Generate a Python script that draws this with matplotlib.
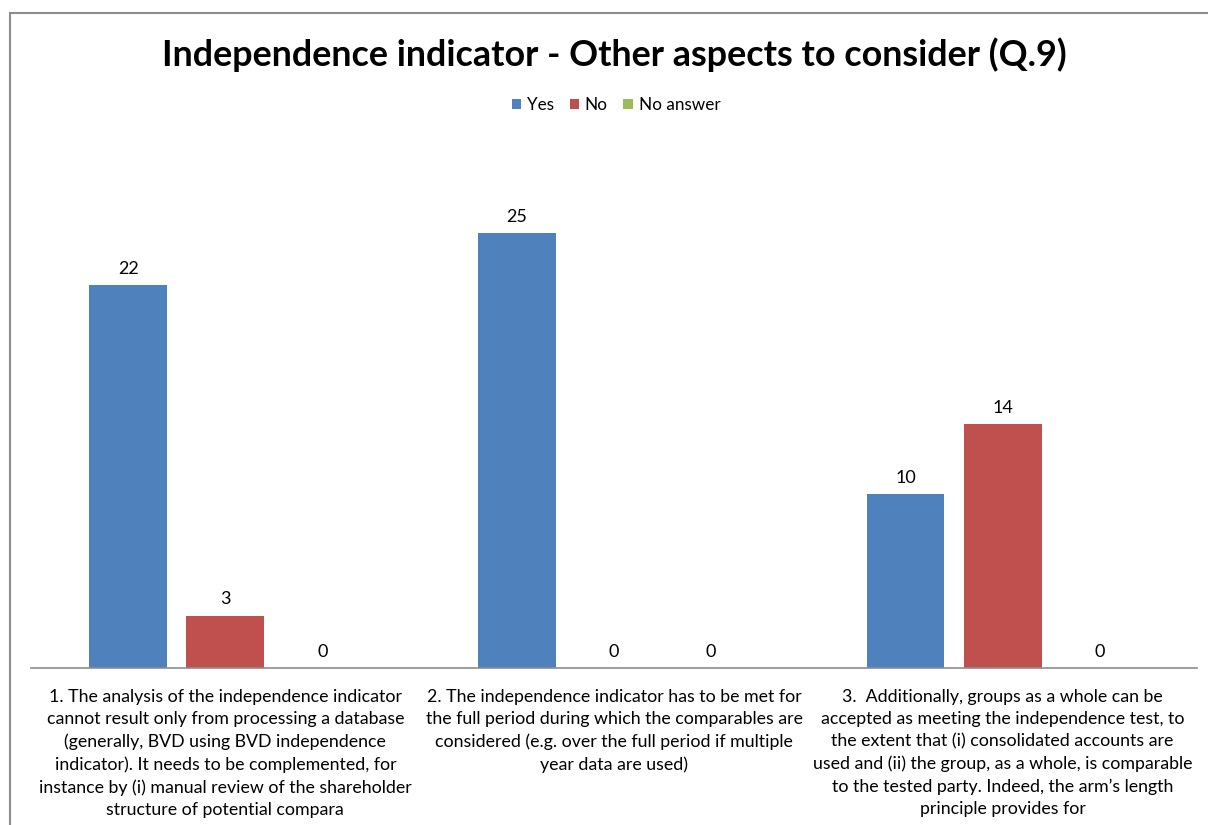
import numpy as np
import matplotlib
matplotlib.use('Agg')
import matplotlib.pyplot as plt
from matplotlib.patches import Rectangle

plt.rcParams['font.family'] = ['Lato', 'DejaVu Sans']

categories = [
    '1. The analysis of the independence indicator\n'
    'cannot result only from processing a database\n'
    '(generally, BVD using BVD independence\n'
    'indicator). It needs to be complemented, for\n'
    'instance by (i) manual review of the shareholder\n'
    'structure of potential compara',
    '2. The independence indicator has to be met for\n'
    'the full period during which the comparables are\n'
    'considered (e.g. over the full period if multiple\n'
    'year data are used)',
    '3.  Additionally, groups as a whole can be\n'
    'accepted as meeting the independence test, to\n'
    'the extent that (i) consolidated accounts are\n'
    'used and (ii) the group, as a whole, is comparable\n'
    'to the tested party. Indeed, the arm\u2019s length\n'
    'principle provides for',
]
series = ['Yes', 'No', 'No answer']
yes = [22, 25, 10]
no = [3, 0, 14]
no_answer = [0, 0, 0]
colors = ['#4F81BD', '#C0504D', '#9BBB59']

W, H = 1208, 825
fig = plt.figure(figsize=(W / 100, H / 100), dpi=100)

# outer chart border (right and bottom edges run off the canvas)
fig.patches.append(Rectangle((10 / W, -0.1), 1.2, 1 - 13 / H + 0.1,
                             transform=fig.transFigure, fill=False,
                             edgecolor='#8c8c8c', linewidth=1.5))

ax = fig.add_axes([31 / W, 1 - 668 / H, (1197 - 31) / W, (668 - 128.6) / H])
x = np.arange(len(categories))
offsets = [-0.25, 0, 0.25]
for vals, name, off, col in zip([yes, no, no_answer], series, offsets, colors):
    bars = ax.bar(x + off, vals, width=0.2, color=col, label=name)
    ax.bar_label(bars, padding=6, fontsize=13)

ax.set_xlim(-0.5, 2.5)
ax.set_ylim(0, 31)
ax.set_yticks([])
ax.set_xticks(x)
ax.set_xticklabels(categories, fontsize=12.8, linespacing=1.47, va='top')
ax.tick_params(axis='x', length=0, pad=15)
for side in ['top', 'right', 'left']:
    ax.spines[side].set_visible(False)
ax.spines['bottom'].set_color('#8c8c8c')
ax.spines['bottom'].set_linewidth(1.2)

fig.text(614 / W, 1 - 55 / H, 'Independence indicator - Other aspects to consider (Q.9)',
         ha='center', va='center', fontsize=25.8, fontweight='bold')

fig.legend(loc='center', bbox_to_anchor=(616 / W, 1 - 105 / H), ncol=3,
           frameon=False, fontsize=12.3, handlelength=0.55, handleheight=0.55,
           handletextpad=0.35, columnspacing=0.9)

fig.savefig('out.png', dpi=100)
